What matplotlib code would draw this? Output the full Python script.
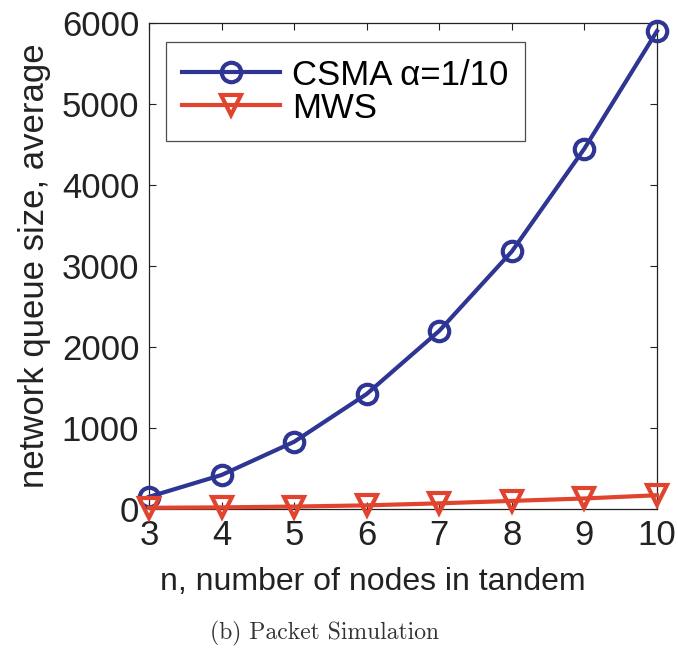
import matplotlib
matplotlib.use("Agg")
from matplotlib import pyplot as plt

n = [3, 4, 5, 6, 7, 8, 9, 10]
csma = [150, 420, 830, 1420, 2200, 3180, 4450, 5900]
mws = [15, 20, 30, 45, 70, 100, 130, 170]
xticks = [3, 4, 5, 6, 7, 8, 9, 10]
yticks = [0, 1000, 2000, 3000, 4000, 5000, 6000]

plt.rcParams['font.family'] = ['Liberation Sans', 'DejaVu Sans']

fig = plt.figure(figsize=(6.78, 6.5), dpi=100)
ax = fig.add_axes([149/678, 1 - 509/650, (657 - 149)/678, (509 - 23)/650])

ax.plot(n, csma, color='#2e3592', lw=3, marker='o', ms=14, mfc='none',
        mew=3, label='CSMA α=1/10', clip_on=False, zorder=3)
ax.plot(n, mws, color='#e0442e', lw=3, marker='v', ms=15, mfc='none',
        mew=3, label='MWS', clip_on=False, zorder=4)

ax.set_xlim(3, 10)
ax.set_ylim(0, 6000)
ax.set_xticks(xticks)
ax.set_yticks(yticks)
ax.tick_params(direction='in', top=True, right=True, labelsize=25, length=5,
               width=0.8, pad=7, colors='#222222')
for s in ax.spines.values():
    s.set_linewidth(0.9)
    s.set_color('#222222')

ax.set_xlabel('n, number of nodes in tandem', fontsize=23, color='#222222',
              labelpad=11, x=0.441)
ax.set_ylabel('network queue size, average', fontsize=25, color='#222222', labelpad=8)

leg = ax.legend(loc='upper left', fontsize=25, frameon=True, fancybox=False,
                edgecolor='#222222', handlelength=2.8, handletextpad=0.35,
                borderpad=0.48, labelspacing=0.0, borderaxespad=0,
                bbox_to_anchor=(0.033, 0.961))
leg.get_frame().set_linewidth(0.9)

fig.text(0.478, 1 - 633/650, '(b) Packet Simulation', ha='center', va='center',
         fontsize=17, family='cmr10', color='#333333')

fig.savefig('out.png', dpi=100)
